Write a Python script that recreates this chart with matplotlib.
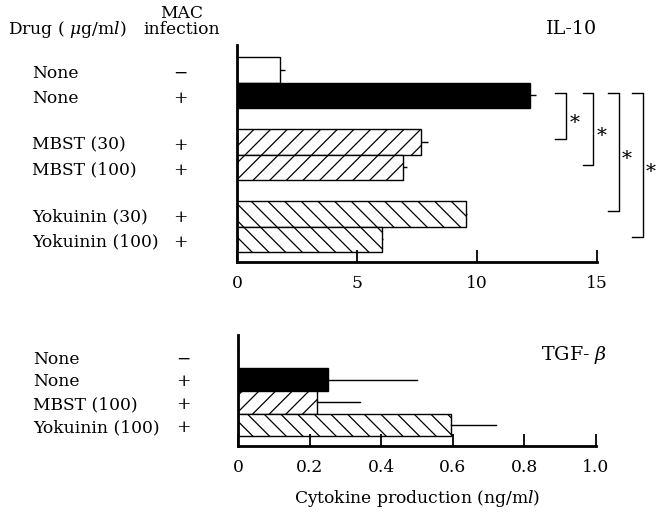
import matplotlib
matplotlib.use('Agg')
import matplotlib.pyplot as plt
from matplotlib.transforms import blended_transform_factory

plt.rcParams['font.family'] = 'DejaVu Serif'
plt.rcParams['mathtext.fontset'] = 'dejavuserif'
plt.rcParams['hatch.linewidth'] = 0.9

# IL-10 panel
il10_drugs = ['None', 'None', 'MBST (30)', 'MBST (100)', 'Yokuinin (30)', 'Yokuinin (100)']
il10_mac = ['\u2212', '+', '+', '+', '+', '+']
il10_group = [0, 0, 1, 1, 2, 2]
il10_values = [1.8, 12.2, 7.66, 6.93, 9.53, 6.05]
il10_errors = [0.2, 0.25, 0.28, 0.14, 0.05, 0.05]
il10_hatch = ['', '', '//', '//', '\\\\', '\\\\']
il10_fill = ['white', 'black', 'white', 'white', 'white', 'white']

# significance brackets: None(+) vs each drug row
sig_rows = [2, 3, 4, 5]
sig_x = [13.7, 14.85, 15.9, 16.9]

# TGF-beta panel
tgf_drugs = ['None', 'None', 'MBST (100)', 'Yokuinin (100)']
tgf_mac = ['\u2212', '+', '+', '+']
tgf_values = [0.0, 0.25, 0.22, 0.595]
tgf_errors = [0.0, 0.25, 0.12, 0.125]
tgf_hatch = ['', '', '//', '\\\\']
tgf_fill = ['white', 'black', 'white', 'white']

W, H = 657, 514
fig = plt.figure(figsize=(W / 100, H / 100), dpi=100)

FS = 12.3


def style_axis(ax, xmax, ticks, labels):
    ax.spines['top'].set_visible(False)
    ax.spines['right'].set_visible(False)
    ax.spines['left'].set_linewidth(2.0)
    ax.spines['bottom'].set_linewidth(2.0)
    ax.set_xlim(0, xmax)
    ax.set_xticks(ticks)
    ax.set_xticklabels(labels, fontsize=FS)
    ax.tick_params(axis='x', direction='in', length=9, width=1.3, pad=9)
    ax.set_yticks([])


# ---- top: IL-10 ----
ax1 = fig.add_axes([237 / W, 1 - 262 / H, 360 / W, 217 / H])
gap = 0.85
pos1 = [i + g * gap for i, g in enumerate(il10_group)]
ax1.barh(pos1, il10_values, height=1.0, color=il10_fill, edgecolor='black',
         linewidth=1.0, hatch=il10_hatch)
ax1.errorbar(il10_values, pos1, xerr=[[0] * len(il10_values), il10_errors],
             fmt='none', ecolor='black', elinewidth=1.0, capsize=0)
ax1.set_ylim(7.6, -0.99)
style_axis(ax1, 15, [0, 5, 10, 15], ['0', '5', '10', '15'])
ax1.text(1.0, 1.075, 'IL-10', transform=ax1.transAxes, ha='right', va='center',
         fontsize=FS + 1.5)

tr1 = blended_transform_factory(fig.transFigure, ax1.transData)
for p, d, m in zip(pos1, il10_drugs, il10_mac):
    ax1.text(32 / W, p + 0.12, d, transform=tr1, ha='left', va='center', fontsize=FS)
    ax1.text(180 / W, p + 0.12, m, transform=tr1, ha='center', va='center', fontsize=FS)

fig.text(8 / W, 1 - 29 / H, r'Drug ( $\mu$g/m$l$)', ha='left', va='center', fontsize=FS)
fig.text(182 / W, 1 - 13 / H, 'MAC', ha='center', va='center', fontsize=FS)
fig.text(182 / W, 1 - 29 / H, 'infection', ha='center', va='center', fontsize=FS)

# brackets
tip = 0.45
top_y = pos1[1] - 0.1
for r, bx in zip(sig_rows, sig_x):
    bot_y = pos1[r] - 0.1
    ax1.plot([bx - tip, bx, bx, bx - tip], [top_y, top_y, bot_y, bot_y],
             color='black', linewidth=1.0, clip_on=False)
    ax1.text(bx + 0.35, (top_y + bot_y) / 2 + 0.3, '*', ha='center', va='center',
             fontsize=FS + 2, clip_on=False)

# ---- bottom: TGF-beta ----
ax2 = fig.add_axes([238 / W, 1 - 446 / H, 358 / W, 111 / H])
pos2 = list(range(len(tgf_values)))
ax2.barh(pos2, tgf_values, height=1.0, color=tgf_fill, edgecolor='black',
         linewidth=1.0, hatch=tgf_hatch)
for p, v, e in zip(pos2, tgf_values, tgf_errors):
    if v > 0:
        ax2.plot([v, v + e], [p, p], color='black', linewidth=1.0)
ax2.set_ylim(3.92, -0.97)
style_axis(ax2, 1.0, [0, 0.2, 0.4, 0.6, 0.8, 1.0], ['0', '0.2', '0.4', '0.6', '0.8', '1.0'])
ax2.text(1.03, 0.82, r'TGF- $\beta$', transform=ax2.transAxes, ha='right', va='center',
         fontsize=FS + 1.5)
ax2.set_xlabel(r'Cytokine production (ng/m$l$)', fontsize=FS, labelpad=9)

tr2 = blended_transform_factory(fig.transFigure, ax2.transData)
for p, d, m in zip(pos2, tgf_drugs, tgf_mac):
    ax2.text(33 / W, p + 0.1, d, transform=tr2, ha='left', va='center', fontsize=FS)
    ax2.text(183 / W, p + 0.1, m, transform=tr2, ha='center', va='center', fontsize=FS)

fig.savefig('out.png', dpi=100)
